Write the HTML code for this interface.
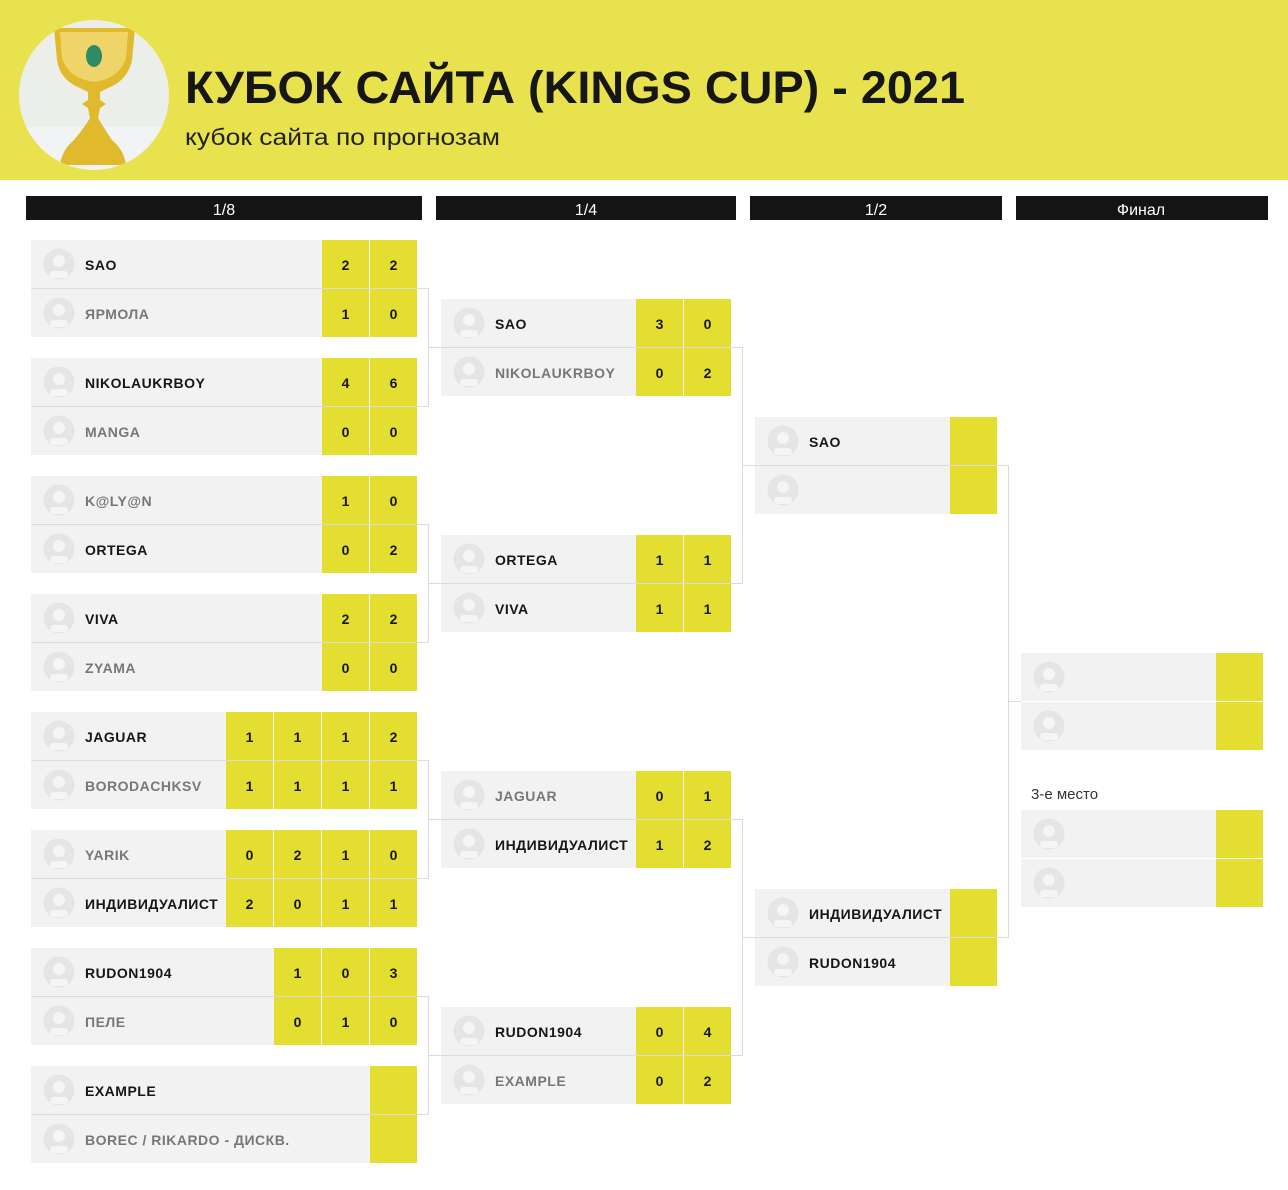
<!DOCTYPE html>
<html><head><meta charset="utf-8"><style>
html,body{margin:0;padding:0;background:#fff;}
svg{display:block;}
text{font-family:"Liberation Sans","DejaVu Sans",sans-serif;}
.n{font-size:14px;font-weight:bold;fill:#161616;letter-spacing:0.5px;}
.l{font-size:14px;font-weight:bold;fill:#777;letter-spacing:0.5px;}
.s{font-size:14px;font-weight:bold;fill:#161616;text-anchor:middle;}
.bg{fill:#f2f2f2;}
.y{fill:#e4de30;}
.c{stroke:#dcdcdc;stroke-width:1;fill:none;}
.h{fill:#141414;}
.ht{fill:#fff;font-size:16px;text-anchor:middle;}
</style></head><body>
<svg width="1288" height="1190" viewBox="0 0 1288 1190" xmlns="http://www.w3.org/2000/svg">
<defs>
<symbol id="av" viewBox="0 0 32 32">
<circle cx="16" cy="16" r="15.5" fill="#e5e5e5"/>
<circle cx="16" cy="13" r="6" fill="#f5f5f5"/>
<rect x="7" y="23" width="18" height="7" rx="3.5" fill="#f5f5f5"/>
</symbol>
<clipPath id="cup"><circle cx="94" cy="95" r="75"/></clipPath>
</defs>
<!-- header -->
<rect x="0" y="0" width="1288" height="180" fill="#e9e24f"/>
<g clip-path="url(#cup)">
<rect x="19" y="20" width="150" height="150" fill="#eceeea"/>
<rect x="19" y="127" width="150" height="45" fill="#f1f3f4"/>
<path d="M54 28 L135 28 L132 60 Q128 80 108 88 L100 92 L100 100 L106 104 L100 108 L98 118 Q104 128 112 140 Q124 150 126 165 L60 165 Q62 150 74 140 Q84 128 90 118 L88 108 L82 104 L88 100 L88 92 L80 88 Q60 80 57 60 Z" fill="#e1b92c"/>
<path d="M60 32 L128 32 L126 58 Q120 78 94 82 Q68 78 62 58 Z" fill="#efd46a"/>
<ellipse cx="94" cy="56" rx="8" ry="11" fill="#2f8a66"/>
</g>
<text x="185" y="103" font-size="45" font-weight="bold" fill="#161616" textLength="780" lengthAdjust="spacingAndGlyphs">КУБОК САЙТА (KINGS CUP) - 2021</text>
<text x="185" y="145" font-size="23" fill="#222" textLength="315" lengthAdjust="spacingAndGlyphs">кубок сайта по прогнозам</text>
<!-- round headers -->
<rect class="h" x="26" y="196" width="396" height="24"/><text class="ht" x="224" y="215">1/8</text>
<rect class="h" x="436" y="196" width="300" height="24"/><text class="ht" x="586" y="215">1/4</text>
<rect class="h" x="750" y="196" width="252" height="24"/><text class="ht" x="876" y="215">1/2</text>
<rect class="h" x="1016" y="196" width="252" height="24"/><text class="ht" x="1141" y="215">Финал</text>
<!-- connectors -->
<g class="c">
<path d="M31 288.5 H428.5 V406.5 H31 M428.5 347.5 H441"/>
<path d="M31 524.5 H428.5 V642.5 H31 M428.5 583.5 H441"/>
<path d="M31 760.5 H428.5 V878.5 H31 M428.5 819.5 H441"/>
<path d="M31 996.5 H428.5 V1114.5 H31 M428.5 1055.5 H441"/>
<path d="M441 347.5 H742.5 V583.5 H441 M742.5 465.5 H755"/>
<path d="M441 819.5 H742.5 V1055.5 H441 M742.5 937.5 H755"/>
<path d="M755 465.5 H1008.5 V937.5 H755 M1008.5 701.5 H1021"/>
</g>
<!-- R16 -->
<g>
<rect class="bg" x="31" y="240" width="386" height="48"/><rect class="bg" x="31" y="289" width="386" height="48"/>
<use href="#av" x="43" y="248" width="32" height="32"/><use href="#av" x="43" y="297" width="32" height="32"/>
<text class="n" x="85" y="270">SAO</text><text class="l" x="85" y="319">ЯРМОЛА</text>
<rect class="y" x="322" y="240" width="47" height="48"/><rect class="y" x="370" y="240" width="47" height="48"/>
<rect class="y" x="322" y="289" width="47" height="48"/><rect class="y" x="370" y="289" width="47" height="48"/>
<text class="s" x="345.5" y="270">2</text><text class="s" x="393.5" y="270">2</text>
<text class="s" x="345.5" y="319">1</text><text class="s" x="393.5" y="319">0</text>
</g>
<g>
<rect class="bg" x="31" y="358" width="386" height="48"/><rect class="bg" x="31" y="407" width="386" height="48"/>
<use href="#av" x="43" y="366" width="32" height="32"/><use href="#av" x="43" y="415" width="32" height="32"/>
<text class="n" x="85" y="388">NIKOLAUKRBOY</text><text class="l" x="85" y="437">MANGA</text>
<rect class="y" x="322" y="358" width="47" height="48"/><rect class="y" x="370" y="358" width="47" height="48"/>
<rect class="y" x="322" y="407" width="47" height="48"/><rect class="y" x="370" y="407" width="47" height="48"/>
<text class="s" x="345.5" y="388">4</text><text class="s" x="393.5" y="388">6</text>
<text class="s" x="345.5" y="437">0</text><text class="s" x="393.5" y="437">0</text>
</g>
<g>
<rect class="bg" x="31" y="476" width="386" height="48"/><rect class="bg" x="31" y="525" width="386" height="48"/>
<use href="#av" x="43" y="484" width="32" height="32"/><use href="#av" x="43" y="533" width="32" height="32"/>
<text class="l" x="85" y="506">K@LY@N</text><text class="n" x="85" y="555">ORTEGA</text>
<rect class="y" x="322" y="476" width="47" height="48"/><rect class="y" x="370" y="476" width="47" height="48"/>
<rect class="y" x="322" y="525" width="47" height="48"/><rect class="y" x="370" y="525" width="47" height="48"/>
<text class="s" x="345.5" y="506">1</text><text class="s" x="393.5" y="506">0</text>
<text class="s" x="345.5" y="555">0</text><text class="s" x="393.5" y="555">2</text>
</g>
<g>
<rect class="bg" x="31" y="594" width="386" height="48"/><rect class="bg" x="31" y="643" width="386" height="48"/>
<use href="#av" x="43" y="602" width="32" height="32"/><use href="#av" x="43" y="651" width="32" height="32"/>
<text class="n" x="85" y="624">VIVA</text><text class="l" x="85" y="673">ZYAMA</text>
<rect class="y" x="322" y="594" width="47" height="48"/><rect class="y" x="370" y="594" width="47" height="48"/>
<rect class="y" x="322" y="643" width="47" height="48"/><rect class="y" x="370" y="643" width="47" height="48"/>
<text class="s" x="345.5" y="624">2</text><text class="s" x="393.5" y="624">2</text>
<text class="s" x="345.5" y="673">0</text><text class="s" x="393.5" y="673">0</text>
</g>
<g>
<rect class="bg" x="31" y="712" width="386" height="48"/><rect class="bg" x="31" y="761" width="386" height="48"/>
<use href="#av" x="43" y="720" width="32" height="32"/><use href="#av" x="43" y="769" width="32" height="32"/>
<text class="n" x="85" y="742">JAGUAR</text><text class="l" x="85" y="791">BORODACHKSV</text>
<rect class="y" x="226" y="712" width="47" height="48"/><rect class="y" x="274" y="712" width="47" height="48"/><rect class="y" x="322" y="712" width="47" height="48"/><rect class="y" x="370" y="712" width="47" height="48"/>
<rect class="y" x="226" y="761" width="47" height="48"/><rect class="y" x="274" y="761" width="47" height="48"/><rect class="y" x="322" y="761" width="47" height="48"/><rect class="y" x="370" y="761" width="47" height="48"/>
<text class="s" x="249.5" y="742">1</text><text class="s" x="297.5" y="742">1</text><text class="s" x="345.5" y="742">1</text><text class="s" x="393.5" y="742">2</text>
<text class="s" x="249.5" y="791">1</text><text class="s" x="297.5" y="791">1</text><text class="s" x="345.5" y="791">1</text><text class="s" x="393.5" y="791">1</text>
</g>
<g>
<rect class="bg" x="31" y="830" width="386" height="48"/><rect class="bg" x="31" y="879" width="386" height="48"/>
<use href="#av" x="43" y="838" width="32" height="32"/><use href="#av" x="43" y="887" width="32" height="32"/>
<text class="l" x="85" y="860">YARIK</text><text class="n" x="85" y="909">ИНДИВИДУАЛИСТ</text>
<rect class="y" x="226" y="830" width="47" height="48"/><rect class="y" x="274" y="830" width="47" height="48"/><rect class="y" x="322" y="830" width="47" height="48"/><rect class="y" x="370" y="830" width="47" height="48"/>
<rect class="y" x="226" y="879" width="47" height="48"/><rect class="y" x="274" y="879" width="47" height="48"/><rect class="y" x="322" y="879" width="47" height="48"/><rect class="y" x="370" y="879" width="47" height="48"/>
<text class="s" x="249.5" y="860">0</text><text class="s" x="297.5" y="860">2</text><text class="s" x="345.5" y="860">1</text><text class="s" x="393.5" y="860">0</text>
<text class="s" x="249.5" y="909">2</text><text class="s" x="297.5" y="909">0</text><text class="s" x="345.5" y="909">1</text><text class="s" x="393.5" y="909">1</text>
</g>
<g>
<rect class="bg" x="31" y="948" width="386" height="48"/><rect class="bg" x="31" y="997" width="386" height="48"/>
<use href="#av" x="43" y="956" width="32" height="32"/><use href="#av" x="43" y="1005" width="32" height="32"/>
<text class="n" x="85" y="978">RUDON1904</text><text class="l" x="85" y="1027">ПЕЛЕ</text>
<rect class="y" x="274" y="948" width="47" height="48"/><rect class="y" x="322" y="948" width="47" height="48"/><rect class="y" x="370" y="948" width="47" height="48"/>
<rect class="y" x="274" y="997" width="47" height="48"/><rect class="y" x="322" y="997" width="47" height="48"/><rect class="y" x="370" y="997" width="47" height="48"/>
<text class="s" x="297.5" y="978">1</text><text class="s" x="345.5" y="978">0</text><text class="s" x="393.5" y="978">3</text>
<text class="s" x="297.5" y="1027">0</text><text class="s" x="345.5" y="1027">1</text><text class="s" x="393.5" y="1027">0</text>
</g>
<g>
<rect class="bg" x="31" y="1066" width="386" height="48"/><rect class="bg" x="31" y="1115" width="386" height="48"/>
<use href="#av" x="43" y="1074" width="32" height="32"/><use href="#av" x="43" y="1123" width="32" height="32"/>
<text class="n" x="85" y="1096">EXAMPLE</text><text class="l" x="85" y="1145">BOREC / RIKARDO - ДИСКВ.</text>
<rect class="y" x="370" y="1066" width="47" height="48"/><rect class="y" x="370" y="1115" width="47" height="48"/>
</g>
<!-- QF -->
<g>
<rect class="bg" x="441" y="299" width="290" height="48"/><rect class="bg" x="441" y="348" width="290" height="48"/>
<use href="#av" x="453" y="307" width="32" height="32"/><use href="#av" x="453" y="356" width="32" height="32"/>
<text class="n" x="495" y="329">SAO</text><text class="l" x="495" y="378">NIKOLAUKRBOY</text>
<rect class="y" x="636" y="299" width="47" height="48"/><rect class="y" x="684" y="299" width="47" height="48"/>
<rect class="y" x="636" y="348" width="47" height="48"/><rect class="y" x="684" y="348" width="47" height="48"/>
<text class="s" x="659.5" y="329">3</text><text class="s" x="707.5" y="329">0</text>
<text class="s" x="659.5" y="378">0</text><text class="s" x="707.5" y="378">2</text>
</g>
<g>
<rect class="bg" x="441" y="535" width="290" height="48"/><rect class="bg" x="441" y="584" width="290" height="48"/>
<use href="#av" x="453" y="543" width="32" height="32"/><use href="#av" x="453" y="592" width="32" height="32"/>
<text class="n" x="495" y="565">ORTEGA</text><text class="n" x="495" y="614">VIVA</text>
<rect class="y" x="636" y="535" width="47" height="48"/><rect class="y" x="684" y="535" width="47" height="48"/>
<rect class="y" x="636" y="584" width="47" height="48"/><rect class="y" x="684" y="584" width="47" height="48"/>
<text class="s" x="659.5" y="565">1</text><text class="s" x="707.5" y="565">1</text>
<text class="s" x="659.5" y="614">1</text><text class="s" x="707.5" y="614">1</text>
</g>
<g>
<rect class="bg" x="441" y="771" width="290" height="48"/><rect class="bg" x="441" y="820" width="290" height="48"/>
<use href="#av" x="453" y="779" width="32" height="32"/><use href="#av" x="453" y="828" width="32" height="32"/>
<text class="l" x="495" y="801">JAGUAR</text><text class="n" x="495" y="850">ИНДИВИДУАЛИСТ</text>
<rect class="y" x="636" y="771" width="47" height="48"/><rect class="y" x="684" y="771" width="47" height="48"/>
<rect class="y" x="636" y="820" width="47" height="48"/><rect class="y" x="684" y="820" width="47" height="48"/>
<text class="s" x="659.5" y="801">0</text><text class="s" x="707.5" y="801">1</text>
<text class="s" x="659.5" y="850">1</text><text class="s" x="707.5" y="850">2</text>
</g>
<g>
<rect class="bg" x="441" y="1007" width="290" height="48"/><rect class="bg" x="441" y="1056" width="290" height="48"/>
<use href="#av" x="453" y="1015" width="32" height="32"/><use href="#av" x="453" y="1064" width="32" height="32"/>
<text class="n" x="495" y="1037">RUDON1904</text><text class="l" x="495" y="1086">EXAMPLE</text>
<rect class="y" x="636" y="1007" width="47" height="48"/><rect class="y" x="684" y="1007" width="47" height="48"/>
<rect class="y" x="636" y="1056" width="47" height="48"/><rect class="y" x="684" y="1056" width="47" height="48"/>
<text class="s" x="659.5" y="1037">0</text><text class="s" x="707.5" y="1037">4</text>
<text class="s" x="659.5" y="1086">0</text><text class="s" x="707.5" y="1086">2</text>
</g>
<!-- SF -->
<g>
<rect class="bg" x="755" y="417" width="242" height="48"/><rect class="bg" x="755" y="466" width="242" height="48"/>
<use href="#av" x="767" y="425" width="32" height="32"/><use href="#av" x="767" y="474" width="32" height="32"/>
<text class="n" x="809" y="447">SAO</text>
<rect class="y" x="950" y="417" width="47" height="48"/><rect class="y" x="950" y="466" width="47" height="48"/>
</g>
<g>
<rect class="bg" x="755" y="889" width="242" height="48"/><rect class="bg" x="755" y="938" width="242" height="48"/>
<use href="#av" x="767" y="897" width="32" height="32"/><use href="#av" x="767" y="946" width="32" height="32"/>
<text class="n" x="809" y="919">ИНДИВИДУАЛИСТ</text><text class="n" x="809" y="968">RUDON1904</text>
<rect class="y" x="950" y="889" width="47" height="48"/><rect class="y" x="950" y="938" width="47" height="48"/>
</g>
<!-- Final -->
<g>
<rect class="bg" x="1021" y="653" width="242" height="48"/><rect class="bg" x="1021" y="702" width="242" height="48"/>
<use href="#av" x="1033" y="661" width="32" height="32"/><use href="#av" x="1033" y="710" width="32" height="32"/>
<rect class="y" x="1216" y="653" width="47" height="48"/><rect class="y" x="1216" y="702" width="47" height="48"/>
</g>
<text x="1031" y="799" font-size="15" fill="#333">3-е место</text>
<g>
<rect class="bg" x="1021" y="810" width="242" height="48"/><rect class="bg" x="1021" y="859" width="242" height="48"/>
<use href="#av" x="1033" y="818" width="32" height="32"/><use href="#av" x="1033" y="867" width="32" height="32"/>
<rect class="y" x="1216" y="810" width="47" height="48"/><rect class="y" x="1216" y="859" width="47" height="48"/>
</g>
</svg>
</body></html>
